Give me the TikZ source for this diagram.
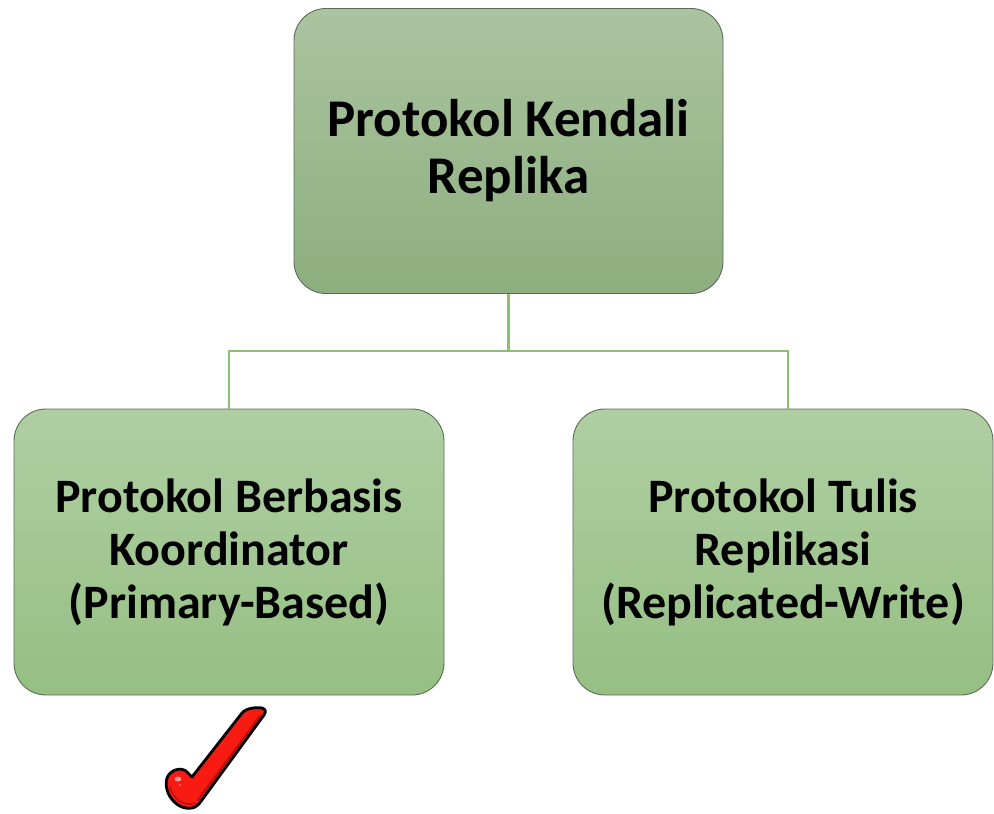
\documentclass[tikz,border=0pt]{standalone}
\usepackage{fontspec}
\setmainfont{Carlito}
\definecolor{topA}{HTML}{AAC49F}
\definecolor{topB}{HTML}{8DAE7F}
\definecolor{subA}{HTML}{AFCFA3}
\definecolor{subB}{HTML}{96BF83}
\definecolor{edge}{HTML}{5C6B58}
\definecolor{linkc}{HTML}{8CBF72}
\definecolor{tickred}{HTML}{F81B12}
\definecolor{tickdark}{HTML}{B8100A}
\tikzset{
  box/.style={draw=edge, line width=0.9pt, rounded corners=32pt,
    align=center, inner sep=0pt, text=black},
  topbox/.style={box, top color=topA, bottom color=topB,
    font=\bfseries\fontsize{53}{57}\selectfont},
  subbox/.style={box, top color=subA, bottom color=subB,
    font=\bfseries\fontsize{48}{53}\selectfont},
  link/.style={draw=linkc, line width=2.2pt}
}
\begin{document}
\begin{tikzpicture}[x=1pt,y=-1pt]
  \useasboundingbox (0,0) rectangle (994,814);

  % hierarchy boxes
  \node[topbox, minimum width=429pt, minimum height=285pt] (root) at (508.5,151)
    {Protokol Kendali\\Replika};
  \node[subbox, minimum width=430pt, minimum height=286pt] (primary) at (229,552)
    {Protokol Berbasis\\Koordinator\\(Primary-Based)};
  \node[subbox, minimum width=420pt, minimum height=286pt] (replwrite) at (783,552)
    {Protokol Tulis\\Replikasi\\(Replicated-Write)};

  % connectors
  \coordinate (bus) at (508.5,351);
  \coordinate (rtap) at (788,409);
  \draw[link] (root.south) -- (bus);
  \draw[link] (bus) -| (primary.north);
  \draw[link] (bus) -| (rtap);

  % red tick mark
  \draw[fill=tickred, draw=black, line width=2.8pt, line join=round]
    (192,777) -- (242,713)
    .. controls (246,708) and (257,707) .. (262,708)
    .. controls (266,709) and (266,712) .. (264,715)
    -- (199,804)
    .. controls (195,809) and (186,810) .. (178,805)
    .. controls (169,799) and (164,787) .. (167,778)
    .. controls (170,770) and (180,767) .. (186,771) -- cycle;
  \draw[tickdark, line width=2pt, line cap=round]
    (198,800) -- (260,716);
  \draw[tickdark, line width=1.6pt, line cap=round]
    (170,787) .. controls (173,799) and (184,807) .. (195,803);
  \fill[red!40!white] (178,779) ellipse (3.4pt and 2.4pt);
  \fill[red!50!white] (180,785) circle (1.2pt);
\end{tikzpicture}
\end{document}
